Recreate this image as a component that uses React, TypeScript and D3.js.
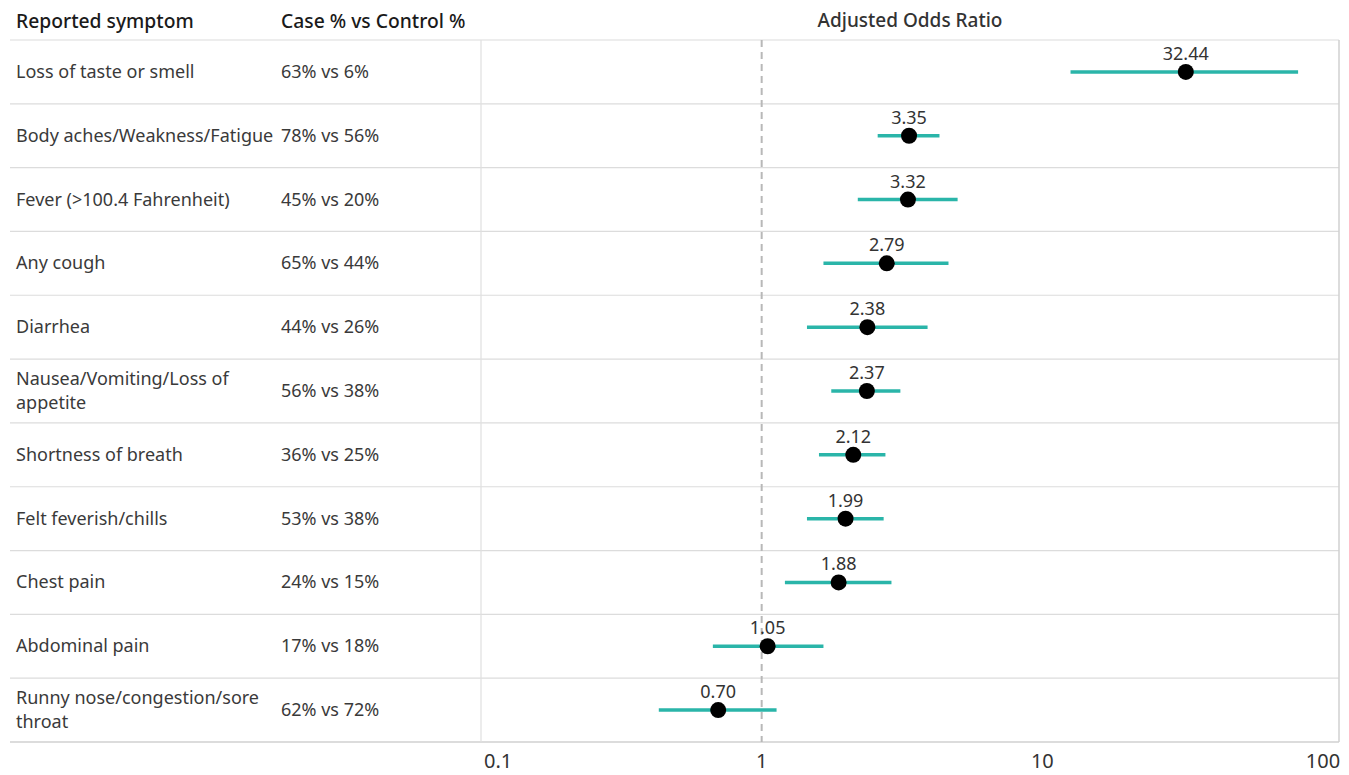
import React from 'react';
import * as d3 from 'd3';

// symptoms, top to bottom
const symptoms = [
  'Loss of taste or smell',
  'Body aches/Weakness/Fatigue',
  'Fever (>100.4 Fahrenheit)',
  'Any cough',
  'Diarrhea',
  'Nausea/Vomiting/Loss of\nappetite',
  'Shortness of breath',
  'Felt feverish/chills',
  'Chest pain',
  'Abdominal pain',
  'Runny nose/congestion/sore\nthroat',
];
const casePct = [63, 78, 45, 65, 44, 56, 36, 53, 24, 17, 62];
const controlPct = [6, 56, 20, 44, 26, 38, 25, 38, 15, 18, 72];
const oddsRatio = [32.44, 3.35, 3.32, 2.79, 2.38, 2.37, 2.12, 1.99, 1.88, 1.05, 0.7];
const ciLow = [12.6, 2.59, 2.2, 1.66, 1.45, 1.77, 1.6, 1.45, 1.21, 0.67, 0.43];
const ciHigh = [81.5, 4.3, 4.99, 4.63, 3.9, 3.12, 2.76, 2.72, 2.9, 1.66, 1.13];
const xTicks = [0.1, 1, 10, 100];

const W = 1349;
const H = 775;
const FONT = '"Noto Sans", sans-serif';

export default function App() {
  const left = 10;
  const paneLeft = 481;
  const paneRight = 1339;
  const top = 40;
  const bottom = 742;

  const x = d3.scaleLog().domain([0.1, 114]).range([paneLeft, paneRight]);
  const y = d3.scaleBand<string>().domain(symptoms).range([top, bottom]);
  const bw = y.bandwidth();
  const fmt = d3.format('.2f');

  return (
    <svg width={W} height={H} style={{ position: 'absolute', left: 0, top: 0, background: '#fff' }} fontFamily={FONT}>
      {/* headers */}
      <text x={16} y={28} fontSize={19.3} fontWeight={500} fill="#1a1a1a">Reported symptom</text>
      <text x={281} y={28} fontSize={19.3} fontWeight={500} fill="#1a1a1a">Case % vs Control %</text>
      <text x={(paneLeft + paneRight) / 2} y={27} fontSize={19} fontWeight={500} fill="#333" textAnchor="middle">Adjusted Odds Ratio</text>

      {/* row lines */}
      {symptoms.map((s, i) => (
        <line key={'r' + i} x1={left} x2={paneRight} y1={y(s)!} y2={y(s)!} stroke="#dcdcdc" strokeWidth={1.2} />
      ))}
      <line x1={left} x2={paneRight} y1={bottom} y2={bottom} stroke="#d0d0d0" strokeWidth={1.5} />
      <line x1={paneLeft} x2={paneLeft} y1={top} y2={bottom} stroke="#e0e0e0" strokeWidth={1.2} />
      <line x1={paneRight} x2={paneRight} y1={top} y2={bottom} stroke="#d0d0d0" strokeWidth={1.5} />

      {/* reference line at 1 */}
      <line x1={x(1)} x2={x(1)} y1={top} y2={bottom} stroke="#b8b8b8" strokeWidth={2} strokeDasharray="7,5" />

      {/* table text */}
      {symptoms.map((s, i) => {
        const cy = y(s)! + bw / 2;
        const lines = s.split('\n');
        return (
          <g key={'t' + i} fontSize={18} fill="#3a3a3a">
            {lines.map((ln, j) => (
              <text key={j} x={16} y={cy + 6 + (j - (lines.length - 1) / 2) * 24}>{ln}</text>
            ))}
            <text x={281} y={cy + 6}>{`${casePct[i]}% vs ${controlPct[i]}%`}</text>
          </g>
        );
      })}

      {/* CIs, points, labels */}
      {symptoms.map((s, i) => {
        const cy = y(s)! + bw / 2;
        return (
          <g key={'p' + i}>
            <line x1={x(ciLow[i])} x2={x(ciHigh[i])} y1={cy} y2={cy} stroke="#2ab5a9" strokeWidth={3.5} />
            <circle cx={x(oddsRatio[i])} cy={cy} r={8} fill="#000" />
            <text x={x(oddsRatio[i])} y={cy - 12} fontSize={18} fill="#333" textAnchor="middle">{fmt(oddsRatio[i])}</text>
          </g>
        );
      })}

      {/* x axis tick labels */}
      {xTicks.map((t, i) => {
        const px = x(t);
        const anchor = i === 0 ? 'start' : 'middle';
        return (
          <text key={'x' + i} x={i === 0 ? px + 3 : px} y={768} fontSize={20} fill="#333" textAnchor={anchor}>
            {t < 1 ? String(t) : d3.format('d')(t)}
          </text>
        );
      })}
    </svg>
  );
}
